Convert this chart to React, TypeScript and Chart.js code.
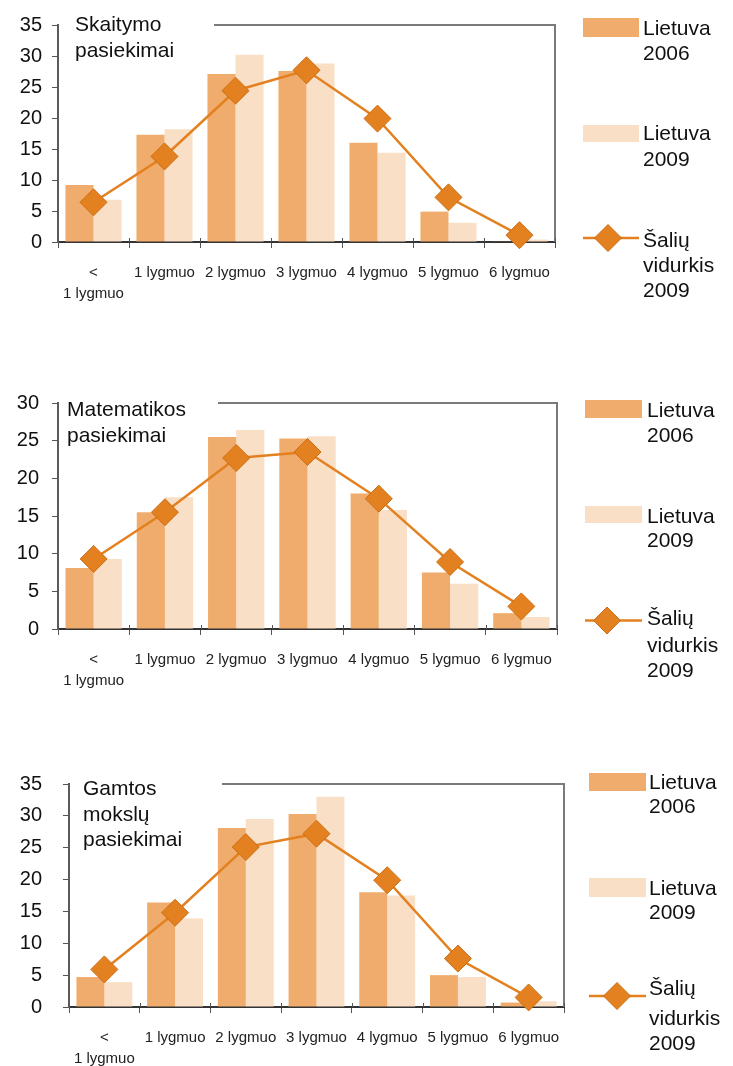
import React, { useEffect, useRef } from 'react';
import { Chart, registerables } from 'chart.js';

Chart.register(...registerables);
Chart.defaults.font.family = '"Liberation Sans", Arial, sans-serif';

// ---------- data ----------
const categories: (string | string[])[] = [['<', '1 lygmuo'], '1 lygmuo', '2 lygmuo', '3 lygmuo', '4 lygmuo', '5 lygmuo', '6 lygmuo'];

const seriesLabels: string[][] = [['Lietuva', '2006'], ['Lietuva', '2009'], ['Šalių', 'vidurkis', '2009']];

const readTitle = ['Skaitymo', 'pasiekimai'];
const readLt2006 = [9.2, 17.3, 27.1, 27.6, 16.0, 4.9, 0.1];
const readLt2009 = [6.8, 18.2, 30.2, 28.8, 14.4, 3.1, 0.4];
const readAvg2009 = [6.4, 13.8, 24.4, 27.7, 19.9, 7.2, 1.1];

const mathTitle = ['Matematikos', 'pasiekimai'];
const mathLt2006 = [8.1, 15.5, 25.5, 25.3, 18.0, 7.5, 2.1];
const mathLt2009 = [9.3, 17.5, 26.4, 25.6, 15.8, 6.0, 1.6];
const mathAvg2009 = [9.3, 15.5, 22.7, 23.5, 17.3, 8.9, 3.0];

const sciTitle = ['Gamtos', 'mokslų', 'pasiekimai'];
const sciLt2006 = [4.7, 16.4, 28.1, 30.3, 18.0, 5.0, 0.7];
const sciLt2009 = [3.9, 13.9, 29.5, 33.0, 17.5, 4.7, 0.9];
const sciAvg2009 = [5.9, 14.8, 25.1, 27.2, 19.9, 7.6, 1.5];

const yMaxes = [35, 30, 35];
const yStep = 5;

// ---------- styles ----------
const COLOR_2006 = '#F0AC6C';
const COLOR_2009 = '#F9DFC5';
const COLOR_AVG = '#E3801F';
const FONT = '"Liberation Sans", Arial, sans-serif';

type Layout = {
  top: number; height: number; left: number; right: number; plotTop: number; plotBottom: number; yPad: number;
  titleX: number; titleBaselines: number[]; borderStart: number;
  swX0: number; swX1: number; textX: number; diamondX: number;
  items: { y0?: number; y1?: number; y?: number; baselines: number[] }[];
};

const layouts: Layout[] = [
  {
    top: 0, height: 330, left: 58, right: 555, plotTop: 25, plotBottom: 242, yPad: 10,
    titleX: 75, titleBaselines: [31, 57], borderStart: 214,
    swX0: 583, swX1: 639, textX: 643, diamondX: 608,
    items: [
      { y0: 18, y1: 37, baselines: [35, 60] },
      { y0: 125, y1: 142, baselines: [140, 165.5] },
      { y: 238, baselines: [246.5, 271.5, 296.5] },
    ],
  },
  {
    top: 370, height: 330, left: 58, right: 557, plotTop: 33, plotBottom: 259, yPad: 13,
    titleX: 67, titleBaselines: [46, 71.5], borderStart: 218,
    swX0: 585, swX1: 642, textX: 647, diamondX: 607,
    items: [
      { y0: 30, y1: 48, baselines: [46.5, 71.5] },
      { y0: 136, y1: 153, baselines: [153, 176.5] },
      { y: 250.5, baselines: [255, 281.5, 306.5] },
    ],
  },
  {
    top: 750, height: 316, left: 69, right: 564, plotTop: 34, plotBottom: 257, yPad: 21,
    titleX: 83, titleBaselines: [45, 70.5, 96], borderStart: 222,
    swX0: 589, swX1: 646, textX: 649, diamondX: 617,
    items: [
      { y0: 23, y1: 41, baselines: [39.3, 63.3] },
      { y0: 128, y1: 147, baselines: [145, 169.3] },
      { y: 246, baselines: [245, 275, 300] },
    ],
  },
];

const chartsData = [
  { title: readTitle, a: readLt2006, b: readLt2009, avg: readAvg2009, max: yMaxes[0] },
  { title: mathTitle, a: mathLt2006, b: mathLt2009, avg: mathAvg2009, max: yMaxes[1] },
  { title: sciTitle, a: sciLt2006, b: sciLt2009, avg: sciAvg2009, max: yMaxes[2] },
];

function diamond(ctx: CanvasRenderingContext2D, x: number, y: number, r: number) {
  ctx.beginPath();
  ctx.moveTo(x, y - r);
  ctx.lineTo(x + r, y);
  ctx.lineTo(x, y + r);
  ctx.lineTo(x - r, y);
  ctx.closePath();
}

const decoPlugin = {
  id: 'deco',
  afterDraw(chart: any, _args: any, opts: any) {
    const L: Layout = opts.layout;
    const title: string[] = opts.title;
    const ctx: CanvasRenderingContext2D = chart.ctx;
    const a = chart.chartArea;
    ctx.save();
    // frame top/right
    ctx.strokeStyle = '#7a7a7a';
    ctx.lineWidth = 2;
    ctx.beginPath();
    ctx.moveTo(L.borderStart, a.top);
    ctx.lineTo(a.right, a.top);
    ctx.lineTo(a.right, a.bottom);
    ctx.stroke();
    // small upward parts of x ticks
    const xs = chart.scales.x;
    ctx.strokeStyle = '#555';
    ctx.lineWidth = 1;
    for (let i = 0; i <= categories.length; i++) {
      const px = Math.round(xs.getPixelForValue(i - 0.5)) + 0.5;
      ctx.beginPath();
      ctx.moveTo(px, a.bottom - 4);
      ctx.lineTo(px, a.bottom);
      ctx.stroke();
    }
    // title
    ctx.fillStyle = '#111';
    ctx.font = '21px ' + FONT;
    ctx.textAlign = 'left';
    ctx.textBaseline = 'alphabetic';
    title.forEach((t, i) => ctx.fillText(t, L.titleX, L.titleBaselines[i]));
    // legend
    chart.data.datasets.forEach((ds: any, i: number) => {
      const it = L.items[i];
      if (ds.type === 'line') {
        ctx.strokeStyle = ds.borderColor;
        ctx.lineWidth = ds.borderWidth;
        ctx.beginPath();
        ctx.moveTo(L.swX0, it.y!);
        ctx.lineTo(L.swX1, it.y!);
        ctx.stroke();
        ctx.fillStyle = ds.pointBackgroundColor;
        diamond(ctx, L.diamondX, it.y!, 13.5);
        ctx.fill();
        ctx.strokeStyle = ds.pointBorderColor;
        ctx.lineWidth = 1;
        ctx.stroke();
      } else {
        ctx.fillStyle = ds.backgroundColor;
        ctx.fillRect(L.swX0, it.y0!, L.swX1 - L.swX0, it.y1! - it.y0!);
      }
      ctx.fillStyle = '#111';
      const lines: string[] = seriesLabels[i];
      lines.forEach((t, j) => ctx.fillText(t, L.textX, it.baselines[j]));
    });
    ctx.restore();
  },
};

function PisaChart({ idx }: { idx: number }) {
  const ref = useRef<HTMLCanvasElement>(null);
  const L = layouts[idx];
  const D = chartsData[idx];
  useEffect(() => {
    if (!ref.current) return;
    const xAxisH = L.height - L.plotBottom;
    const chart = new Chart(ref.current, {
      type: 'bar',
      data: {
        labels: categories,
        datasets: [
          { type: 'bar', label: seriesLabels[0].join(' '), data: D.a, backgroundColor: COLOR_2006, borderWidth: 0, order: 1, categoryPercentage: 0.79, barPercentage: 1.0 } as any,
          { type: 'bar', label: seriesLabels[1].join(' '), data: D.b, backgroundColor: COLOR_2009, borderWidth: 0, order: 2, categoryPercentage: 0.79, barPercentage: 1.0 } as any,
          {
            type: 'line', label: seriesLabels[2].join(' '), data: D.avg, borderColor: COLOR_AVG, backgroundColor: COLOR_AVG,
            borderWidth: 2.5, pointStyle: 'rectRot', pointRadius: 13.5, pointHoverRadius: 13.5,
            pointBackgroundColor: COLOR_AVG, pointBorderColor: '#CC6E14', pointBorderWidth: 1,
            tension: 0, order: 0, clip: false,
          } as any,
        ],
      },
      options: {
        animation: false,
        responsive: false,
        events: [],
        layout: { padding: { left: 0, right: 733 - L.right, top: L.plotTop, bottom: 0 } },
        scales: {
          x: {
            grid: { display: true, drawOnChartArea: false, drawTicks: true, tickLength: 6, color: '#555', offset: true },
            border: { display: true, color: '#333', width: 2 },
            ticks: { font: { size: 15, lineHeight: 1.4 }, color: '#222', padding: 14, maxRotation: 0, autoSkip: false },
            afterFit: (s: any) => { s.height = xAxisH; },
          },
          y: {
            min: 0, max: D.max,
            ticks: { stepSize: yStep, font: { size: 20 }, color: '#111', padding: L.yPad },
            grid: { drawOnChartArea: false, drawTicks: true, tickLength: 6, color: '#555' },
            border: { display: true, color: '#5a5a5a', width: 2 },
            afterFit: (s: any) => { s.width = L.left; },
          },
        },
        plugins: {
          legend: { display: false },
          tooltip: { enabled: false },
          deco: { layout: L, title: D.title },
        } as any,
      },
      plugins: [decoPlugin],
    });
    return () => chart.destroy();
  }, []);
  return (
    <canvas
      ref={ref}
      width={733}
      height={L.height}
      style={{ position: 'absolute', left: 0, top: L.top, width: 733, height: L.height, display: 'block' }}
    />
  );
}

export default function App() {
  return (
    <div style={{ position: 'absolute', left: 0, top: 0, width: 733, height: 1066, background: '#fff', overflow: 'hidden' }}>
      <PisaChart idx={0} />
      <PisaChart idx={1} />
      <PisaChart idx={2} />
    </div>
  );
}
